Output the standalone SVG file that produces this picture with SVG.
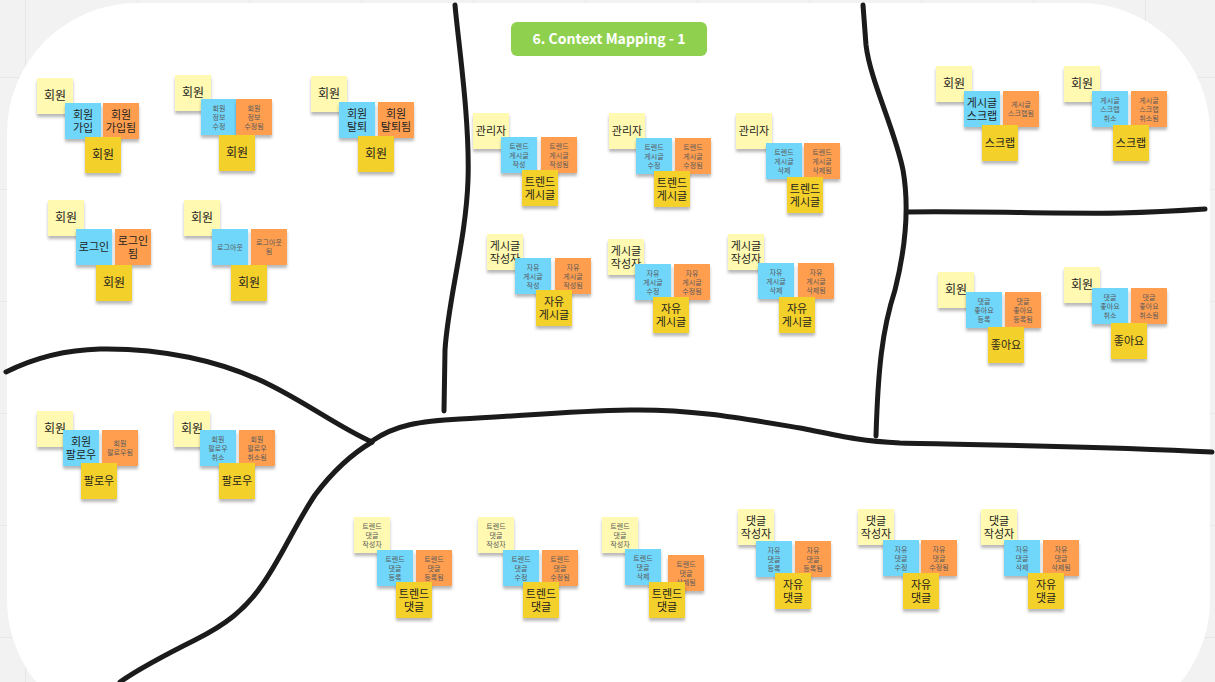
<svg xmlns="http://www.w3.org/2000/svg" width="1215" height="682" viewBox="0 0 1215 682">
<defs>
<pattern id="grid" width="112" height="112" patternUnits="userSpaceOnUse" x="25" y="77"><path d="M0 0H112M0 0V112" stroke="#e3e3e3" stroke-width="1.5" fill="none"/></pattern>
<filter id="sh" x="-20%" y="-20%" width="140%" height="150%"><feDropShadow dx="0" dy="3" stdDeviation="1.6" flood-color="#000" flood-opacity="0.28"/></filter>
<style>
.lt{fill:#fff9b1;filter:url(#sh)}
.bl{fill:#6fd7fa;filter:url(#sh)}
.or{fill:#ff9e4f;filter:url(#sh)}
.ye{fill:#f4d02c;filter:url(#sh)}
text{font-family:"Noto Sans CJK KR","Noto Sans",sans-serif;text-anchor:middle}
.B{font-size:12px;fill:#1e1e1e}
.M{font-size:11px;fill:#1e1e1e}
.S{font-size:7px;fill:#5a5a5a}
.ln{fill:none;stroke:#1b1b1b;stroke-width:5;stroke-linecap:round;stroke-linejoin:round}
</style>
</defs>
<rect width="1215" height="682" fill="#f2f2f2"/>
<rect width="1215" height="682" fill="url(#grid)"/>
<rect x="7" y="3" width="1203" height="727" rx="130" fill="#ffffff"/>

<g id="title">
<rect x="511" y="22" width="196" height="34" rx="6" fill="#8fd14f"/>
<text x="609" y="44" font-family="Open Sans, Liberation Sans, sans-serif" font-weight="700" font-size="14" fill="#ffffff" textLength="153" lengthAdjust="spacingAndGlyphs">6. Context Mapping - 1</text>
</g>

<g id="connectors">
<path class="ln" d="M455,5 C458,40 470,120 468,180 C466,240 448,300 445,350 L444,411"/>
<path class="ln" d="M863,5 L866,45 C870,80 895,130 903,170 C910,210 905,250 895,290 C882,330 878,370 876,436"/>
<path class="ln" d="M907,212 C980,211 1060,214 1120,213 C1160,212 1190,210 1205,209"/>
<path class="ln" d="M6,372 C30,360 60,350 100,349 C160,348 220,360 270,385 C310,405 340,428 372,442"/>
<path class="ln" d="M372,441 C395,425 420,421 460,419 C520,416 570,411 630,410 C690,409 740,418 800,428 C840,436 860,441 900,443 C980,445 1100,446 1212,452"/>
<path class="ln" d="M372,442 C350,455 330,475 315,495 C295,525 280,560 262,585 C245,610 225,625 195,640 C165,655 140,668 120,682"/>
</g>

<!-- A1 -->
<g id="a1-actor"><rect class="lt" x="37" y="78" width="36" height="36"/><text class="B" x="55" y="100">회원</text></g>
<g id="a1-cmd"><rect class="bl" x="65" y="103" width="36" height="36"/><text class="M"><tspan x="83" y="118.5">회원</tspan><tspan x="83" y="131.5">가입</tspan></text></g>
<g id="a1-evt"><rect class="or" x="103" y="103" width="36" height="36"/><text class="M"><tspan x="121" y="118.5">회원</tspan><tspan x="121" y="131.5">가입됨</tspan></text></g>
<g id="a1-agg"><rect class="ye" x="85" y="137" width="36" height="36"/><text class="B" x="103" y="159">회원</text></g>
<!-- A2 -->
<g id="a2-actor"><rect class="lt" x="175" y="75" width="36" height="36"/><text class="B" x="193" y="97">회원</text></g>
<g id="a2-cmd"><rect class="bl" x="201" y="99" width="36" height="36"/><text class="S"><tspan x="219" y="110.5">회원</tspan><tspan x="219" y="119.5">정보</tspan><tspan x="219" y="128.5">수정</tspan></text></g>
<g id="a2-evt"><rect class="or" x="236" y="99" width="36" height="36"/><text class="S"><tspan x="254" y="110.5">회원</tspan><tspan x="254" y="119.5">정보</tspan><tspan x="254" y="128.5">수정됨</tspan></text></g>
<g id="a2-agg"><rect class="ye" x="219" y="135" width="36" height="36"/><text class="B" x="237" y="157">회원</text></g>
<!-- A3 -->
<g id="a3-actor"><rect class="lt" x="311" y="76" width="36" height="36"/><text class="B" x="329" y="98">회원</text></g>
<g id="a3-cmd"><rect class="bl" x="339" y="102" width="36" height="36"/><text class="M"><tspan x="357" y="117.5">회원</tspan><tspan x="357" y="130.5">탈퇴</tspan></text></g>
<g id="a3-evt"><rect class="or" x="378" y="102" width="36" height="36"/><text class="M"><tspan x="396" y="117.5">회원</tspan><tspan x="396" y="130.5">탈퇴됨</tspan></text></g>
<g id="a3-agg"><rect class="ye" x="358" y="136" width="36" height="36"/><text class="B" x="376" y="158">회원</text></g>
<!-- B1 -->
<g id="b1-actor"><rect class="lt" x="48" y="200" width="36" height="36"/><text class="B" x="66" y="222">회원</text></g>
<g id="b1-cmd"><rect class="bl" x="76" y="229" width="36" height="36"/><text class="M" x="94" y="251">로그인</text></g>
<g id="b1-evt"><rect class="or" x="115" y="229" width="36" height="36"/><text class="M"><tspan x="133" y="244.5">로그인</tspan><tspan x="133" y="257.5">됨</tspan></text></g>
<g id="b1-agg"><rect class="ye" x="96" y="265" width="36" height="36"/><text class="B" x="114" y="287">회원</text></g>
<!-- B2 -->
<g id="b2-actor"><rect class="lt" x="184" y="200" width="36" height="36"/><text class="B" x="202" y="222">회원</text></g>
<g id="b2-cmd"><rect class="bl" x="212" y="229" width="36" height="36"/><text class="S" x="230" y="249.5">로그아웃</text></g>
<g id="b2-evt"><rect class="or" x="251" y="229" width="36" height="36"/><text class="S"><tspan x="269" y="245">로그아웃</tspan><tspan x="269" y="254">됨</tspan></text></g>
<g id="b2-agg"><rect class="ye" x="231" y="265" width="36" height="36"/><text class="B" x="249" y="287">회원</text></g>
<!-- C1 -->
<g id="c1-actor"><rect class="lt" x="37" y="411" width="36" height="36"/><text class="B" x="55" y="433">회원</text></g>
<g id="c1-cmd"><rect class="bl" x="63" y="430" width="36" height="36"/><text class="M"><tspan x="81" y="445.5">회원</tspan><tspan x="81" y="458.5">팔로우</tspan></text></g>
<g id="c1-evt"><rect class="or" x="102" y="430" width="36" height="36"/><text class="S"><tspan x="120" y="446">회원</tspan><tspan x="120" y="455">팔로우됨</tspan></text></g>
<g id="c1-agg"><rect class="ye" x="81" y="463" width="36" height="36"/><text class="M" x="99" y="485">팔로우</text></g>
<!-- C2 -->
<g id="c2-actor"><rect class="lt" x="174" y="411" width="36" height="36"/><text class="B" x="192" y="433">회원</text></g>
<g id="c2-cmd"><rect class="bl" x="200" y="430" width="36" height="36"/><text class="S"><tspan x="218" y="441.5">회원</tspan><tspan x="218" y="450.5">팔로우</tspan><tspan x="218" y="459.5">취소</tspan></text></g>
<g id="c2-evt"><rect class="or" x="239" y="430" width="36" height="36"/><text class="S"><tspan x="257" y="441.5">회원</tspan><tspan x="257" y="450.5">팔로우</tspan><tspan x="257" y="459.5">취소됨</tspan></text></g>
<g id="c2-agg"><rect class="ye" x="219" y="463" width="36" height="36"/><text class="M" x="237" y="485">팔로우</text></g>
<!-- D1 -->
<g id="d1-actor"><rect class="lt" x="473" y="113" width="36" height="36"/><text class="M" x="491" y="135">관리자</text></g>
<g id="d1-cmd"><rect class="bl" x="501" y="137" width="36" height="36"/><text class="S"><tspan x="519" y="148.5">트렌드</tspan><tspan x="519" y="157.5">게시글</tspan><tspan x="519" y="166.5">작성</tspan></text></g>
<g id="d1-evt"><rect class="or" x="541" y="137" width="36" height="36"/><text class="S"><tspan x="559" y="148.5">트렌드</tspan><tspan x="559" y="157.5">게시글</tspan><tspan x="559" y="166.5">작성됨</tspan></text></g>
<g id="d1-agg"><rect class="ye" x="522" y="170" width="36" height="36"/><text class="M"><tspan x="540" y="185.5">트렌드</tspan><tspan x="540" y="198.5">게시글</tspan></text></g>
<!-- D2 -->
<g id="d2-actor"><rect class="lt" x="609" y="113" width="36" height="36"/><text class="M" x="627" y="135">관리자</text></g>
<g id="d2-cmd"><rect class="bl" x="636" y="138" width="36" height="36"/><text class="S"><tspan x="654" y="149.5">트렌드</tspan><tspan x="654" y="158.5">게시글</tspan><tspan x="654" y="167.5">수정</tspan></text></g>
<g id="d2-evt"><rect class="or" x="675" y="138" width="36" height="36"/><text class="S"><tspan x="693" y="149.5">트렌드</tspan><tspan x="693" y="158.5">게시글</tspan><tspan x="693" y="167.5">수정됨</tspan></text></g>
<g id="d2-agg"><rect class="ye" x="654" y="171" width="36" height="36"/><text class="M"><tspan x="672" y="186.5">트렌드</tspan><tspan x="672" y="199.5">게시글</tspan></text></g>
<!-- D3 -->
<g id="d3-actor"><rect class="lt" x="736" y="113" width="36" height="36"/><text class="M" x="754" y="135">관리자</text></g>
<g id="d3-cmd"><rect class="bl" x="766" y="143" width="36" height="36"/><text class="S"><tspan x="784" y="154.5">트렌드</tspan><tspan x="784" y="163.5">게시글</tspan><tspan x="784" y="172.5">삭제</tspan></text></g>
<g id="d3-evt"><rect class="or" x="804" y="143" width="36" height="36"/><text class="S"><tspan x="822" y="154.5">트렌드</tspan><tspan x="822" y="163.5">게시글</tspan><tspan x="822" y="172.5">삭제됨</tspan></text></g>
<g id="d3-agg"><rect class="ye" x="787" y="177" width="36" height="36"/><text class="M"><tspan x="805" y="192.5">트렌드</tspan><tspan x="805" y="205.5">게시글</tspan></text></g>
<!-- E1 -->
<g id="e1-actor"><rect class="lt" x="487" y="234" width="36" height="36"/><text class="M"><tspan x="505" y="249.5">게시글</tspan><tspan x="505" y="262.5">작성자</tspan></text></g>
<g id="e1-cmd"><rect class="bl" x="515" y="258" width="36" height="36"/><text class="S"><tspan x="533" y="269.5">자유</tspan><tspan x="533" y="278.5">게시글</tspan><tspan x="533" y="287.5">작성</tspan></text></g>
<g id="e1-evt"><rect class="or" x="555" y="258" width="36" height="36"/><text class="S"><tspan x="573" y="269.5">자유</tspan><tspan x="573" y="278.5">게시글</tspan><tspan x="573" y="287.5">작성됨</tspan></text></g>
<g id="e1-agg"><rect class="ye" x="536" y="290" width="36" height="36"/><text class="M"><tspan x="554" y="305.5">자유</tspan><tspan x="554" y="318.5">게시글</tspan></text></g>
<!-- E2 -->
<g id="e2-actor"><rect class="lt" x="608" y="239" width="36" height="36"/><text class="M"><tspan x="626" y="254.5">게시글</tspan><tspan x="626" y="267.5">작성자</tspan></text></g>
<g id="e2-cmd"><rect class="bl" x="635" y="264" width="36" height="36"/><text class="S"><tspan x="653" y="275.5">자유</tspan><tspan x="653" y="284.5">게시글</tspan><tspan x="653" y="293.5">수정</tspan></text></g>
<g id="e2-evt"><rect class="or" x="674" y="264" width="36" height="36"/><text class="S"><tspan x="692" y="275.5">자유</tspan><tspan x="692" y="284.5">게시글</tspan><tspan x="692" y="293.5">수정됨</tspan></text></g>
<g id="e2-agg"><rect class="ye" x="653" y="297" width="36" height="36"/><text class="M"><tspan x="671" y="312.5">자유</tspan><tspan x="671" y="325.5">게시글</tspan></text></g>
<!-- E3 -->
<g id="e3-actor"><rect class="lt" x="728" y="234" width="36" height="36"/><text class="M"><tspan x="746" y="249.5">게시글</tspan><tspan x="746" y="262.5">작성자</tspan></text></g>
<g id="e3-cmd"><rect class="bl" x="758" y="263" width="36" height="36"/><text class="S"><tspan x="776" y="274.5">자유</tspan><tspan x="776" y="283.5">게시글</tspan><tspan x="776" y="292.5">삭제</tspan></text></g>
<g id="e3-evt"><rect class="or" x="798" y="263" width="36" height="36"/><text class="S"><tspan x="816" y="274.5">자유</tspan><tspan x="816" y="283.5">게시글</tspan><tspan x="816" y="292.5">삭제됨</tspan></text></g>
<g id="e3-agg"><rect class="ye" x="779" y="297" width="36" height="36"/><text class="M"><tspan x="797" y="312.5">자유</tspan><tspan x="797" y="325.5">게시글</tspan></text></g>
<!-- F1 -->
<g id="f1-actor"><rect class="lt" x="936" y="66" width="36" height="36"/><text class="B" x="954" y="88">회원</text></g>
<g id="f1-cmd"><rect class="bl" x="964" y="91" width="36" height="36"/><text class="M"><tspan x="982" y="106.5">게시글</tspan><tspan x="982" y="119.5">스크랩</tspan></text></g>
<g id="f1-evt"><rect class="or" x="1003" y="91" width="36" height="36"/><text class="S"><tspan x="1021" y="107">게시글</tspan><tspan x="1021" y="116">스크랩됨</tspan></text></g>
<g id="f1-agg"><rect class="ye" x="982" y="125" width="36" height="36"/><text class="M" x="1000" y="147">스크랩</text></g>
<!-- F2 -->
<g id="f2-actor"><rect class="lt" x="1064" y="66" width="36" height="36"/><text class="B" x="1082" y="88">회원</text></g>
<g id="f2-cmd"><rect class="bl" x="1092" y="91" width="36" height="36"/><text class="S"><tspan x="1110" y="102.5">게시글</tspan><tspan x="1110" y="111.5">스크랩</tspan><tspan x="1110" y="120.5">취소</tspan></text></g>
<g id="f2-evt"><rect class="or" x="1131" y="91" width="36" height="36"/><text class="S"><tspan x="1149" y="102.5">게시글</tspan><tspan x="1149" y="111.5">스크랩</tspan><tspan x="1149" y="120.5">취소됨</tspan></text></g>
<g id="f2-agg"><rect class="ye" x="1113" y="125" width="36" height="36"/><text class="M" x="1131" y="147">스크랩</text></g>
<!-- G1 -->
<g id="g1-actor"><rect class="lt" x="938" y="272" width="36" height="36"/><text class="B" x="956" y="294">회원</text></g>
<g id="g1-cmd"><rect class="bl" x="966" y="292" width="36" height="36"/><text class="S"><tspan x="984" y="303.5">댓글</tspan><tspan x="984" y="312.5">좋아요</tspan><tspan x="984" y="321.5">등록</tspan></text></g>
<g id="g1-evt"><rect class="or" x="1005" y="292" width="36" height="36"/><text class="S"><tspan x="1023" y="303.5">댓글</tspan><tspan x="1023" y="312.5">좋아요</tspan><tspan x="1023" y="321.5">등록됨</tspan></text></g>
<g id="g1-agg"><rect class="ye" x="988" y="327" width="36" height="36"/><text class="M" x="1006" y="349">좋아요</text></g>
<!-- G2 -->
<g id="g2-actor"><rect class="lt" x="1064" y="267" width="36" height="36"/><text class="B" x="1082" y="289">회원</text></g>
<g id="g2-cmd"><rect class="bl" x="1092" y="288" width="36" height="36"/><text class="S"><tspan x="1110" y="299.5">댓글</tspan><tspan x="1110" y="308.5">좋아요</tspan><tspan x="1110" y="317.5">취소</tspan></text></g>
<g id="g2-evt"><rect class="or" x="1131" y="288" width="36" height="36"/><text class="S"><tspan x="1149" y="299.5">댓글</tspan><tspan x="1149" y="308.5">좋아요</tspan><tspan x="1149" y="317.5">취소됨</tspan></text></g>
<g id="g2-agg"><rect class="ye" x="1111" y="323" width="36" height="36"/><text class="M" x="1129" y="345">좋아요</text></g>
<!-- H1 -->
<g id="h1-actor"><rect class="lt" x="354" y="517" width="36" height="36"/><text class="S"><tspan x="372" y="528.5">트렌드</tspan><tspan x="372" y="537.5">댓글</tspan><tspan x="372" y="546.5">작성자</tspan></text></g>
<g id="h1-cmd"><rect class="bl" x="377" y="550" width="36" height="36"/><text class="S"><tspan x="395" y="561.5">트렌드</tspan><tspan x="395" y="570.5">댓글</tspan><tspan x="395" y="579.5">등록</tspan></text></g>
<g id="h1-evt"><rect class="or" x="416" y="550" width="36" height="36"/><text class="S"><tspan x="434" y="561.5">트렌드</tspan><tspan x="434" y="570.5">댓글</tspan><tspan x="434" y="579.5">등록됨</tspan></text></g>
<g id="h1-agg"><rect class="ye" x="396" y="582" width="36" height="36"/><text class="M"><tspan x="414" y="597.5">트렌드</tspan><tspan x="414" y="610.5">댓글</tspan></text></g>
<!-- H2 -->
<g id="h2-actor"><rect class="lt" x="478" y="517" width="36" height="36"/><text class="S"><tspan x="496" y="528.5">트렌드</tspan><tspan x="496" y="537.5">댓글</tspan><tspan x="496" y="546.5">작성자</tspan></text></g>
<g id="h2-cmd"><rect class="bl" x="503" y="550" width="36" height="36"/><text class="S"><tspan x="521" y="561.5">트렌드</tspan><tspan x="521" y="570.5">댓글</tspan><tspan x="521" y="579.5">수정</tspan></text></g>
<g id="h2-evt"><rect class="or" x="542" y="550" width="36" height="36"/><text class="S"><tspan x="560" y="561.5">트렌드</tspan><tspan x="560" y="570.5">댓글</tspan><tspan x="560" y="579.5">수정됨</tspan></text></g>
<g id="h2-agg"><rect class="ye" x="523" y="582" width="36" height="36"/><text class="M"><tspan x="541" y="597.5">트렌드</tspan><tspan x="541" y="610.5">댓글</tspan></text></g>
<!-- H3 -->
<g id="h3-actor"><rect class="lt" x="602" y="517" width="36" height="36"/><text class="S"><tspan x="620" y="528.5">트렌드</tspan><tspan x="620" y="537.5">댓글</tspan><tspan x="620" y="546.5">작성자</tspan></text></g>
<g id="h3-cmd"><rect class="bl" x="625" y="549" width="36" height="36"/><text class="S"><tspan x="643" y="560.5">트렌드</tspan><tspan x="643" y="569.5">댓글</tspan><tspan x="643" y="578.5">삭제</tspan></text></g>
<g id="h3-evt"><rect class="or" x="668" y="555" width="36" height="36"/><text class="S"><tspan x="686" y="566.5">트렌드</tspan><tspan x="686" y="575.5">댓글</tspan><tspan x="686" y="584.5">삭제됨</tspan></text></g>
<g id="h3-agg"><rect class="ye" x="649" y="582" width="36" height="36"/><text class="M"><tspan x="667" y="597.5">트렌드</tspan><tspan x="667" y="610.5">댓글</tspan></text></g>
<!-- I1 -->
<g id="i1-actor"><rect class="lt" x="738" y="509" width="36" height="36"/><text class="M"><tspan x="756" y="524.5">댓글</tspan><tspan x="756" y="537.5">작성자</tspan></text></g>
<g id="i1-cmd"><rect class="bl" x="756" y="541" width="36" height="36"/><text class="S"><tspan x="774" y="552.5">자유</tspan><tspan x="774" y="561.5">댓글</tspan><tspan x="774" y="570.5">등록</tspan></text></g>
<g id="i1-evt"><rect class="or" x="795" y="541" width="36" height="36"/><text class="S"><tspan x="813" y="552.5">자유</tspan><tspan x="813" y="561.5">댓글</tspan><tspan x="813" y="570.5">등록됨</tspan></text></g>
<g id="i1-agg"><rect class="ye" x="775" y="573" width="36" height="36"/><text class="M"><tspan x="793" y="588.5">자유</tspan><tspan x="793" y="601.5">댓글</tspan></text></g>
<!-- I2 -->
<g id="i2-actor"><rect class="lt" x="858" y="509" width="36" height="36"/><text class="M"><tspan x="876" y="524.5">댓글</tspan><tspan x="876" y="537.5">작성자</tspan></text></g>
<g id="i2-cmd"><rect class="bl" x="883" y="540" width="36" height="36"/><text class="S"><tspan x="901" y="551.5">자유</tspan><tspan x="901" y="560.5">댓글</tspan><tspan x="901" y="569.5">수정</tspan></text></g>
<g id="i2-evt"><rect class="or" x="921" y="540" width="36" height="36"/><text class="S"><tspan x="939" y="551.5">자유</tspan><tspan x="939" y="560.5">댓글</tspan><tspan x="939" y="569.5">수정됨</tspan></text></g>
<g id="i2-agg"><rect class="ye" x="903" y="573" width="36" height="36"/><text class="M"><tspan x="921" y="588.5">자유</tspan><tspan x="921" y="601.5">댓글</tspan></text></g>
<!-- I3 -->
<g id="i3-actor"><rect class="lt" x="981" y="509" width="36" height="36"/><text class="M"><tspan x="999" y="524.5">댓글</tspan><tspan x="999" y="537.5">작성자</tspan></text></g>
<g id="i3-cmd"><rect class="bl" x="1004" y="540" width="36" height="36"/><text class="S"><tspan x="1022" y="551.5">자유</tspan><tspan x="1022" y="560.5">댓글</tspan><tspan x="1022" y="569.5">삭제</tspan></text></g>
<g id="i3-evt"><rect class="or" x="1043" y="540" width="36" height="36"/><text class="S"><tspan x="1061" y="551.5">자유</tspan><tspan x="1061" y="560.5">댓글</tspan><tspan x="1061" y="569.5">삭제됨</tspan></text></g>
<g id="i3-agg"><rect class="ye" x="1028" y="573" width="36" height="36"/><text class="M"><tspan x="1046" y="588.5">자유</tspan><tspan x="1046" y="601.5">댓글</tspan></text></g>
</svg>
